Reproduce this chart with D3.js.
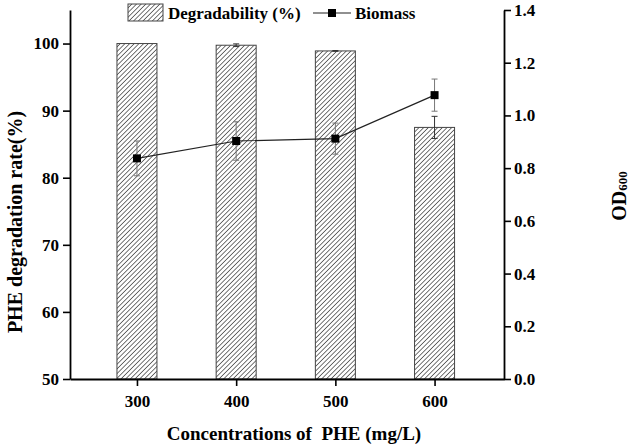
<!DOCTYPE html>
<html>
<head>
<meta charset="utf-8">
<script src="https://cdn.jsdelivr.net/npm/d3@7"></script>
<style>
  body { margin: 0; background: #fff; }
  svg { display: block; }
</style>
</head>
<body>
<div id="chart"></div>
<script>
const concentrations = [300, 400, 500, 600];
const degradability = [100.0, 99.75, 98.9, 87.5];
const degradabilityErr = [0, 0.2, 0.05, 1.65];
const biomass = [0.837, 0.903, 0.912, 1.077];
const biomassErr = [0.066, 0.073, 0.059, 0.061];
const leftTicks = [50, 60, 70, 80, 90, 100];
const rightTicks = [0, 0.2, 0.4, 0.6, 0.8, 1.0, 1.2, 1.4];

const width = 630;
const height = 447;
const margin = { top: 10, right: 126, bottom: 68, left: 70 };
const font = '"Liberation Serif", "Times New Roman", serif';

const svg = d3.select('#chart')
  .append('svg')
  .attr('width', width)
  .attr('height', height)
  .attr('font-family', font)
  .attr('font-weight', 'bold');

const x = d3.scaleLinear()
  .domain([232.5, 670])
  .range([margin.left, width - margin.right]);

const yLeft = d3.scaleLinear()
  .domain([50, 105])
  .range([height - margin.bottom, margin.top]);

const yRight = d3.scaleLinear()
  .domain([0, 1.4])
  .range([height - margin.bottom, margin.top]);

// hatch pattern
const defs = svg.append('defs');
defs.append('pattern')
  .attr('id', 'hatch')
  .attr('patternUnits', 'userSpaceOnUse')
  .attr('width', 3.3)
  .attr('height', 3.3)
  .attr('patternTransform', 'rotate(45)')
  .append('line')
  .attr('x1', 0).attr('y1', 0)
  .attr('x2', 0).attr('y2', 3.3)
  .attr('stroke', '#2a2a2a')
  .attr('stroke-width', 1.3);

const barW = 40;

// bars
svg.append('g')
  .selectAll('rect')
  .data(concentrations)
  .join('rect')
  .attr('x', (d) => x(d) - barW / 2)
  .attr('y', (d, i) => yLeft(degradability[i]))
  .attr('width', barW)
  .attr('height', (d, i) => yLeft(50) - yLeft(degradability[i]))
  .attr('fill', 'url(#hatch)')
  .attr('stroke', '#444')
  .attr('stroke-width', 1);

// bar error bars
const barErr = svg.append('g')
  .attr('stroke', '#333')
  .attr('stroke-width', 1);
concentrations.forEach((c, i) => {
  if (!degradabilityErr[i]) return;
  const cx = x(c);
  const y0 = yLeft(degradability[i] - degradabilityErr[i]);
  const y1 = yLeft(degradability[i] + degradabilityErr[i]);
  barErr.append('line').attr('x1', cx).attr('x2', cx).attr('y1', y0).attr('y2', y1);
  barErr.append('line').attr('x1', cx - 3).attr('x2', cx + 3).attr('y1', y0).attr('y2', y0);
  barErr.append('line').attr('x1', cx - 3).attr('x2', cx + 3).attr('y1', y1).attr('y2', y1);
});

// biomass line
const line = d3.line()
  .x((d) => x(d))
  .y((d, i) => yRight(biomass[i]));

svg.append('path')
  .datum(concentrations)
  .attr('d', line)
  .attr('fill', 'none')
  .attr('stroke', '#222')
  .attr('stroke-width', 1.2);

const bioErr = svg.append('g')
  .attr('stroke', '#777')
  .attr('stroke-width', 1);
concentrations.forEach((c, i) => {
  const cx = x(c);
  const y0 = yRight(biomass[i] - biomassErr[i]);
  const y1 = yRight(biomass[i] + biomassErr[i]);
  bioErr.append('line').attr('x1', cx).attr('x2', cx).attr('y1', y0).attr('y2', y1);
  bioErr.append('line').attr('x1', cx - 3).attr('x2', cx + 3).attr('y1', y0).attr('y2', y0);
  bioErr.append('line').attr('x1', cx - 3).attr('x2', cx + 3).attr('y1', y1).attr('y2', y1);
});

svg.append('g')
  .selectAll('rect')
  .data(concentrations)
  .join('rect')
  .attr('x', (d) => x(d) - 4)
  .attr('y', (d, i) => yRight(biomass[i]) - 4)
  .attr('width', 8)
  .attr('height', 8)
  .attr('fill', '#000');

// axes
const styleAxis = (g) => {
  g.attr('font-family', font).attr('font-size', 17);
  g.selectAll('.domain').attr('stroke', '#000').attr('stroke-width', 1.8);
  g.selectAll('.tick line').attr('stroke', '#000').attr('stroke-width', 1.6);
  g.selectAll('.tick text')
    .attr('font-family', font)
    .attr('font-weight', 'bold')
    .attr('font-size', 17)
    .attr('fill', '#000');
};

svg.append('g')
  .attr('transform', `translate(0,${height - margin.bottom})`)
  .call(d3.axisBottom(x).tickValues(concentrations).tickSize(7).tickSizeOuter(0).tickPadding(9))
  .call(styleAxis);

svg.append('g')
  .attr('transform', `translate(${margin.left},0)`)
  .call(d3.axisLeft(yLeft).tickValues(leftTicks).tickSize(7).tickSizeOuter(0).tickPadding(4))
  .call(styleAxis);

svg.append('g')
  .attr('transform', `translate(${width - margin.right},0)`)
  .call(d3.axisRight(yRight).tickValues(rightTicks).tickFormat(d3.format('.1f')).tickSize(7).tickSizeOuter(0).tickPadding(3))
  .call(styleAxis);

// axis titles
svg.append('text')
  .attr('x', 294)
  .attr('y', 440)
  .attr('text-anchor', 'middle')
  .attr('font-size', 19)
  .attr('xml:space', 'preserve')
  .text('Concentrations of  PHE (mg/L)');

svg.append('text')
  .attr('transform', 'translate(22,222) rotate(-90)')
  .attr('text-anchor', 'middle')
  .attr('font-size', 20)
  .text('PHE degradation rate(%)');

const od = svg.append('text')
  .attr('transform', 'translate(626,196) rotate(-90)')
  .attr('text-anchor', 'middle')
  .attr('font-size', 20);
od.append('tspan').text('OD');
od.append('tspan').attr('font-size', 13).attr('dy', 1).text('600');

// legend
const legend = svg.append('g');
legend.append('rect')
  .attr('x', 128).attr('y', 4)
  .attr('width', 35).attr('height', 17)
  .attr('fill', 'url(#hatch)')
  .attr('stroke', '#444');
legend.append('text')
  .attr('x', 168).attr('y', 19)
  .attr('font-size', 17)
  .text('Degradability (%)');
legend.append('line')
  .attr('x1', 313).attr('x2', 351)
  .attr('y1', 13).attr('y2', 13)
  .attr('stroke', '#222').attr('stroke-width', 1.2);
legend.append('rect')
  .attr('x', 328).attr('y', 9)
  .attr('width', 8).attr('height', 8)
  .attr('fill', '#000');
legend.append('text')
  .attr('x', 355).attr('y', 19)
  .attr('font-size', 17)
  .text('Biomass');
</script>
</body>
</html>
